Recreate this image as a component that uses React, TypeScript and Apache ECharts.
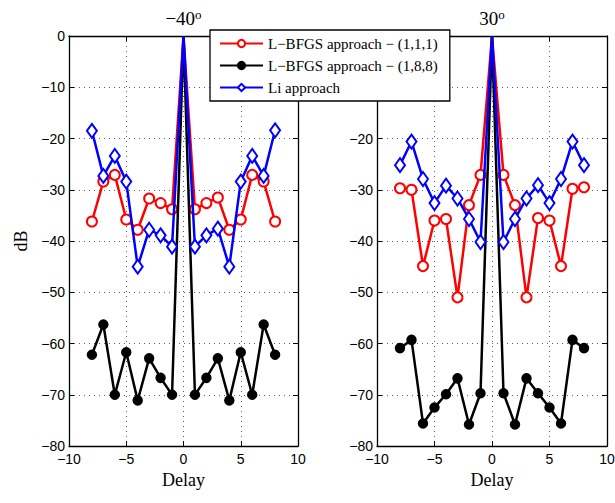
import React, { useEffect, useRef } from "react";
import * as echarts from "echarts";

const delays = [-8, -7, -6, -5, -4, -3, -2, -1, 0, 1, 2, 3, 4, 5, 6, 7, 8];

const left111 = [-36.2, -28.4, -27.1, -35.8, -37.8, -31.7, -32.6, -33.8, 0, -33.8, -32.6, -31.5, -37.8, -35.8, -27.1, -28.4, -36.2];
const left188 = [-62.2, -56.3, -70.0, -61.7, -71.1, -62.9, -66.7, -70.0, 0, -70.0, -66.7, -62.9, -71.1, -61.7, -70.0, -56.3, -62.2];
const leftLi = [-18.5, -27.3, -23.4, -28.4, -45.0, -37.8, -38.9, -41.1, 0, -41.1, -38.9, -37.6, -45.0, -28.4, -23.4, -27.3, -18.4];

const right111 = [-29.7, -30.0, -44.9, -36.0, -35.7, -51.0, -33.0, -27.1, 0, -27.1, -33.0, -51.0, -35.5, -36.0, -44.9, -29.8, -29.5];
const right188 = [-60.9, -59.3, -75.6, -72.5, -69.9, -66.8, -75.8, -69.7, 0, -69.7, -75.8, -66.8, -69.7, -72.5, -75.6, -59.3, -60.9];
const rightLi = [-25.2, -20.6, -27.9, -32.6, -29.2, -31.7, -35.7, -40.2, 0, -40.2, -35.7, -31.7, -29.1, -32.6, -27.9, -20.6, -25.2];

const titles = ["\u221240", "30"];
const seriesNames = [
  "L\u2212BFGS approach \u2212 (1,1,1)",
  "L\u2212BFGS approach \u2212 (1,8,8)",
  "Li approach",
];
// y tick labels of the right panel hidden under the legend box in the reference
const hiddenRightTicks = [0, -10];

const SERIF = "'Liberation Serif', 'Times New Roman', serif";
const SANS = "'Liberation Sans', Arial, Helvetica, sans-serif";

const minus = (v: number) => String(v).replace("-", "\u2212");

function pts(vals: number[]) {
  return delays.map((d, i) =>
    vals[i] === 0 ? { value: [d, vals[i]], symbol: "none" } : { value: [d, vals[i]] }
  );
}

export default function App() {
  const ref = useRef<HTMLDivElement>(null);
  useEffect(() => {
    document.body.style.margin = "0";
    const chart = echarts.init(ref.current!, null, { renderer: "svg" });
    const grids = [
      { left: 69, top: 36, width: 229, height: 410 },
      { left: 377, top: 36, width: 230, height: 410 },
    ];
    const xAxes: any[] = [];
    const yAxes: any[] = [];
    grids.forEach((g, gi) => {
      xAxes.push({
        type: "value",
        gridIndex: gi,
        min: -10,
        max: 10,
        interval: 5,
        position: "bottom",
        axisLine: { show: true, onZero: false, lineStyle: { color: "#000", width: 1.3 } },
        axisTick: { show: true, inside: true, length: 5, lineStyle: { color: "#000" } },
        axisLabel: { color: "#000", fontFamily: SANS, fontSize: 14, margin: 6, formatter: minus },
        splitLine: { show: true, lineStyle: { color: "#333", width: 0.8, type: [1, 4] } },
        name: "Delay",
        nameLocation: "middle",
        nameGap: 25,
        nameTextStyle: { fontFamily: SERIF, fontSize: 18, color: "#000" },
      });
      xAxes.push({
        type: "value",
        gridIndex: gi,
        min: -10,
        max: 10,
        interval: 5,
        position: "top",
        axisLine: { show: true, onZero: false, lineStyle: { color: "#000", width: 1.3 } },
        axisTick: { show: true, inside: true, length: 5, lineStyle: { color: "#000" } },
        axisLabel: { show: false },
        splitLine: { show: false },
      });
      yAxes.push({
        type: "value",
        gridIndex: gi,
        min: -80,
        max: 0,
        interval: 10,
        position: "left",
        axisLine: { show: true, onZero: false, lineStyle: { color: "#000", width: 1.3 } },
        axisTick: { show: true, inside: true, length: 5, lineStyle: { color: "#000" } },
        axisLabel: {
          color: "#000",
          fontFamily: SANS,
          fontSize: 14,
          margin: 4,
          formatter: (v: number) =>
            gi === 1 && hiddenRightTicks.includes(v) ? "" : minus(v),
        },
        splitLine: { show: true, lineStyle: { color: "#333", width: 0.8, type: [1, 4] } },
        name: gi === 0 ? "dB" : "",
        nameLocation: "middle",
        nameGap: 39,
        nameRotate: 90,
        nameTextStyle: { fontFamily: SERIF, fontSize: 18, color: "#000" },
      });
      yAxes.push({
        type: "value",
        gridIndex: gi,
        min: -80,
        max: 0,
        interval: 10,
        position: "right",
        axisLine: { show: true, onZero: false, lineStyle: { color: "#000", width: 1.3 } },
        axisTick: { show: true, inside: true, length: 5, lineStyle: { color: "#000" } },
        axisLabel: { show: false },
        splitLine: { show: false },
      });
    });

    const styles = [
      { color: "#ff0000", symbol: "emptyCircle", symbolSize: 10 },
      { color: "#000000", symbol: "circle", symbolSize: 8 },
      { color: "#0000ff", symbol: "emptyDiamond", symbolSize: [10, 14] },
    ];
    const sets = [
      [left111, left188, leftLi],
      [right111, right188, rightLi],
    ];
    const series: any[] = [];
    sets.forEach((set, gi) => {
      set.forEach((vals, si) => {
        const st = styles[si];
        series.push({
          type: "line",
          name: seriesNames[si],
          xAxisIndex: gi * 2,
          yAxisIndex: gi * 2,
          data: pts(vals),
          symbol: st.symbol,
          symbolSize: st.symbolSize,
          showAllSymbol: true,
          clip: true,
          lineStyle: { color: st.color, width: 2.5 },
          itemStyle: { color: st.color, borderColor: st.color, borderWidth: 2.5 },
          z: 2 + si,
        });
      });
    });

    const centers = [183.5, 492];
    const graphic = titles.map((t, i) => ({
      type: "text",
      x: centers[i],
      y: 8,
      style: {
        text: `{a|${t}}{b|o}`,
        align: "center",
        verticalAlign: "top",
        rich: {
          a: { fontFamily: SERIF, fontSize: 19, fill: "#000", lineHeight: 20, verticalAlign: "bottom" },
          b: { fontFamily: SERIF, fontSize: 13, fill: "#000", lineHeight: 20, verticalAlign: "top", padding: [0, 0, 8, 0] },
        },
      },
    }));

    chart.setOption({
      animation: false,
      backgroundColor: "#fff",
      grid: grids.map((g) => ({ ...g, outerBoundsMode: "none" })),
      xAxis: xAxes,
      yAxis: yAxes,
      legend: {
        data: seriesNames,
        left: 210,
        top: 30,
        orient: "vertical",
        padding: [6, 12, 6, 9],
        itemGap: 7,
        itemWidth: 43,
        itemHeight: 9,
        borderColor: "#000",
        borderWidth: 1.3,
        backgroundColor: "#fff",
        textStyle: { fontFamily: SERIF, fontSize: 15, color: "#000" },
        z: 10,
      },
      graphic,
      series,
    });
    return () => chart.dispose();
  }, []);
  return <div ref={ref} style={{ width: 615, height: 503 }} />;
}
